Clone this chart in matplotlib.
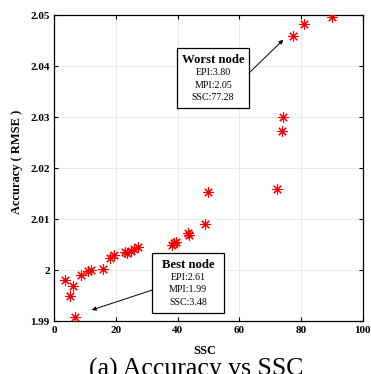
import matplotlib
matplotlib.use("Agg")
import matplotlib.pyplot as plt
from matplotlib.patches import Rectangle

plt.rcParams['font.family'] = ['Liberation Serif', 'DejaVu Serif']

# SSC of each node and the resulting accuracy (RMSE)
ssc = [3.48, 5.0, 6.1, 6.6, 8.6, 11.0, 11.8, 15.6, 18.0, 19.4,
       23.0, 23.6, 24.8, 25.7, 27.0, 38.2, 38.8, 39.6, 43.2, 43.8,
       48.9, 49.9, 72.2, 73.9, 74.1, 77.28, 81.0, 90.2]
rmse = [1.9981, 1.9950, 1.9969, 1.9907, 1.9990, 1.9998, 2.0001, 2.0003, 2.0024, 2.0030,
        2.0035, 2.0033, 2.0038, 2.0041, 2.0045, 2.0050, 2.0053, 2.0056, 2.0072, 2.0069,
        2.0090, 2.0153, 2.0160, 2.0272, 2.0300, 2.0460, 2.0482, 2.0497]

x_ticks = [0, 20, 40, 60, 80, 100]
y_ticks = [1.99, 2.0, 2.01, 2.02, 2.03, 2.04, 2.05]
y_tick_labels = ['1.99', '2', '2.01', '2.02', '2.03', '2.04', '2.05']

worst_title = 'Worst node'
worst_lines = ['EPI:3.80', 'MPI:2.05', 'SSC:77.28']
best_title = 'Best node'
best_lines = ['EPI:2.61', 'MPI:1.99', 'SSC:3.48']

fig = plt.figure(figsize=(3.71, 3.74), dpi=100)
ax = fig.add_axes([0.1469, 0.1417, 0.8302, 0.8174])

ax.plot(ssc, rmse, linestyle='none', marker=(8, 2, 0), markersize=7.5,
        markeredgewidth=0.8, color='red', zorder=3)
ax.plot(ssc, rmse, linestyle='none', marker='o', markersize=2.2,
        markeredgewidth=0, color='#e00000', zorder=4)

ax.set_xlim(0, 100)
ax.set_ylim(1.99, 2.05)
ax.set_xticks(x_ticks)
ax.set_xticklabels([str(t) for t in x_ticks])
ax.set_yticks(y_ticks)
ax.set_yticklabels(y_tick_labels)
ax.grid(True, color='#e6e6e6', linewidth=0.6)
ax.set_axisbelow(True)
for s in ax.spines.values():
    s.set_linewidth(0.9)
ax.tick_params(direction='in', top=True, right=True, length=3, width=0.8,
               labelsize=8, pad=3.5)
for lab in ax.get_xticklabels() + ax.get_yticklabels():
    lab.set_fontweight('bold')

ax.set_xlabel('SSC', fontsize=9, fontweight='bold')
ax.xaxis.set_label_coords(0.489, -0.078)
ax.set_ylabel('Accuracy ( RMSE )', fontsize=9, fontweight='bold')
ax.yaxis.set_label_coords(-0.102, 0.522)


def info_box(x0, x1, y0, y1, title, lines, arrow_from, arrow_to):
    ax.add_patch(Rectangle((x0, y0), x1 - x0, y1 - y0, facecolor='white',
                           edgecolor='black', linewidth=0.9, zorder=5))
    cx = (x0 + x1) / 2
    h = y1 - y0
    ax.text(cx, y1 - 0.2 * h, title, ha='center', va='center', fontsize=9.2,
            fontweight='bold', zorder=6)
    for i, t in enumerate(lines):
        ax.text(cx, y1 - (0.41 + 0.205 * i) * h, t, ha='center', va='center',
                fontsize=7.2, zorder=6)
    ax.annotate('', xy=arrow_to, xytext=arrow_from, zorder=6,
                arrowprops=dict(arrowstyle='-|>', color='black', lw=0.7,
                                mutation_scale=6, shrinkA=0, shrinkB=0))


info_box(39.8, 63.2, 2.03175, 2.04358, worst_title, worst_lines,
         (63.2, 2.0387), (74.3, 2.0452))
info_box(31.75, 55.1, 1.99151, 2.00341, best_title, best_lines,
         (31.75, 1.99608), (12.1, 1.99216))

fig.text(0.528, -0.005, '(a) Accuracy vs SSC', ha='center', va='baseline',
         fontsize=18.5)

fig.savefig('out.png', dpi=100)
